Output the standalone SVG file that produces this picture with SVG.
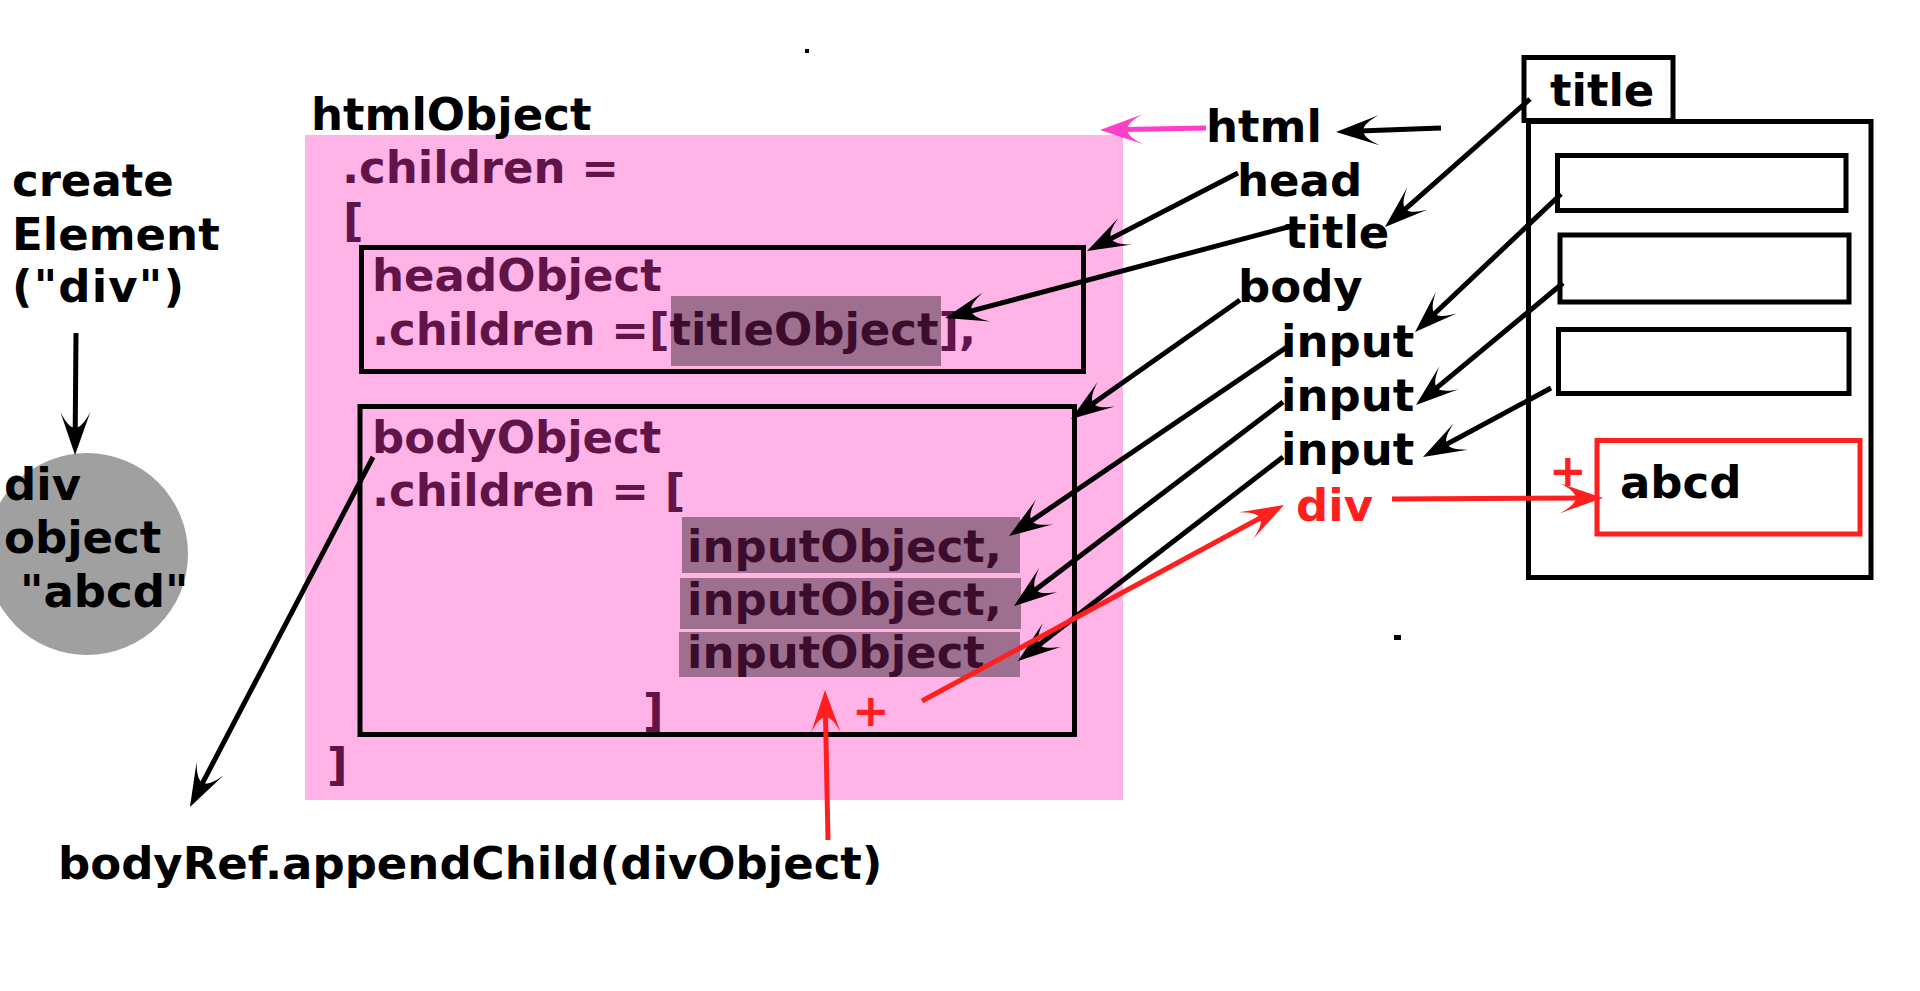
<svg xmlns="http://www.w3.org/2000/svg" width="1920" height="991" viewBox="0 0 1920 991">
  <style>
    text { font-family: "DejaVu Sans", "Liberation Sans", sans-serif; font-weight: bold; font-size: 45px; }
    .blk { fill: #000000; }
    .pur { fill: #601448; }
    .red { fill: #ff1f1f; }
    .hl { fill: #000000; fill-opacity: 0.38; }
    .box { fill: none; stroke: #000000; stroke-width: 5; }
    .ln { fill: none; stroke: #000000; stroke-width: 5; }
    .lnr { fill: none; stroke: #ff1f1f; stroke-width: 5; }
    .lnp { fill: none; stroke: #ff3ec8; stroke-width: 5; }
  </style>
  <defs>
    <marker id="ah" markerUnits="userSpaceOnUse" refX="-10" refY="0" markerWidth="60" markerHeight="40" orient="auto" overflow="visible">
      <path d="M0,0 L-43,-15 C-22,-4 -22,4 -43,15 Z" fill="#000000"/>
    </marker>
    <marker id="ahr" markerUnits="userSpaceOnUse" refX="-10" refY="0" markerWidth="60" markerHeight="40" orient="auto" overflow="visible">
      <path d="M0,0 L-43,-15 C-22,-4 -22,4 -43,15 Z" fill="#ff1f1f"/>
    </marker>
    <marker id="ahp" markerUnits="userSpaceOnUse" refX="-10" refY="0" markerWidth="60" markerHeight="40" orient="auto" overflow="visible">
      <path d="M0,0 L-43,-15 C-22,-4 -22,4 -43,15 Z" fill="#ff3ec8"/>
    </marker>
  </defs>
  <rect width="1920" height="991" fill="#ffffff"/>

  <g id="create-element">
    <text class="blk" x="12" y="196">create</text>
    <text class="blk" x="12" y="250">Element</text>
    <text class="blk" x="12" y="302" textLength="172" lengthAdjust="spacing">("div")</text>
  </g>

  <g id="div-object">
    <circle cx="87" cy="554" r="101" fill="#a0a0a0"/>
    <text class="blk" x="4" y="500">div</text>
    <text class="blk" x="4" y="553">object</text>
    <text class="blk" x="20" y="607">"abcd"</text>
  </g>

  <g id="html-object">
    <rect x="305" y="135" width="818" height="665" fill="#ffb3e6"/>
    <text class="blk" x="311" y="130">htmlObject</text>
    <text class="pur" x="342" y="183">.children =</text>
    <text class="pur" x="343" y="236">[</text>
    <text class="pur" x="327" y="780">]</text>
  </g>

  <g id="head-object">
    <rect class="box" x="361.5" y="247.5" width="722" height="124"/>
    <text class="pur" x="372" y="291">headObject</text>
    <text class="pur" x="372" y="345">.children =[titleObject],</text>
    <rect class="hl" x="671" y="296" width="270" height="70"/>
  </g>

  <g id="body-object">
    <rect class="box" x="360" y="406.5" width="714.5" height="328"/>
    <text class="pur" x="372" y="453">bodyObject</text>
    <text class="pur" x="372" y="506">.children = [</text>
    <text class="pur" x="687" y="562">inputObject,</text>
    <text class="pur" x="687" y="615">inputObject,</text>
    <text class="pur" x="687" y="668">inputObject</text>
    <rect class="hl" x="682" y="517" width="338" height="56"/>
    <rect class="hl" x="680" y="578" width="341" height="51"/>
    <rect class="hl" x="679" y="632" width="341" height="45"/>
    <text class="pur" x="643" y="726">]</text>
    <text class="red" x="852" y="726">+</text>
  </g>

  <g id="append-child">
    <text class="blk" x="58" y="879">bodyRef.appendChild(divObject)</text>
  </g>

  <g id="dom-labels">
    <text class="blk" x="1206" y="142">html</text>
    <text class="blk" x="1237" y="196">head</text>
    <text class="blk" x="1285" y="248">title</text>
    <text class="blk" x="1238" y="302">body</text>
    <text class="blk" x="1281" y="357">input</text>
    <text class="blk" x="1281" y="411">input</text>
    <text class="blk" x="1281" y="465">input</text>
    <text class="red" x="1296" y="521">div</text>
  </g>

  <g id="page">
    <rect class="box" x="1528.5" y="121.5" width="342.5" height="456"/>
    <rect class="box" x="1524" y="57.5" width="149" height="63" fill="#ffffff"/>
    <text class="blk" x="1550" y="106">title</text>
    <rect class="box" x="1557.5" y="155.5" width="288.5" height="55"/>
    <rect class="box" x="1560" y="235" width="289" height="67"/>
    <rect class="box" x="1558.5" y="329.5" width="290.5" height="64"/>
    <rect x="1597" y="440.5" width="263" height="93.5" fill="none" stroke="#ff1f1f" stroke-width="5"/>
    <text class="red" x="1549" y="486" font-size="48">+</text>
    <text class="blk" x="1620" y="498">abcd</text>
  </g>

  <g id="specks">
    <rect x="805" y="49" width="4" height="4" fill="#000000"/>
    <rect x="1394" y="635" width="7" height="5" fill="#000000"/>
  </g>

  <g id="connectors">
    <line class="ln" x1="76" y1="333" x2="75.1" y2="445" marker-end="url(#ah)"/>
    <line class="ln" x1="373" y1="457" x2="194.6" y2="798.1" marker-end="url(#ah)"/>
    <line class="lnp" x1="1206" y1="128" x2="1110" y2="129.8" marker-end="url(#ahp)"/>
    <line class="ln" x1="1441" y1="128" x2="1346" y2="131.6" marker-end="url(#ah)"/>
    <line class="ln" x1="1238" y1="173" x2="1095.9" y2="246.4" marker-end="url(#ah)"/>
    <line class="ln" x1="1288" y1="227" x2="954.7" y2="315.4" marker-end="url(#ah)"/>
    <line class="ln" x1="1530" y1="99" x2="1392.5" y2="220.4" marker-end="url(#ah)"/>
    <line class="ln" x1="1240" y1="300" x2="1079.2" y2="413.2" marker-end="url(#ah)"/>
    <line class="ln" x1="1287" y1="347" x2="1017.3" y2="530.4" marker-end="url(#ah)"/>
    <line class="ln" x1="1283" y1="402" x2="1022" y2="600" marker-end="url(#ah)"/>
    <line class="ln" x1="1283" y1="457" x2="1025.9" y2="654.9" marker-end="url(#ah)"/>
    <line class="ln" x1="1561" y1="194" x2="1422.3" y2="325.2" marker-end="url(#ah)"/>
    <line class="ln" x1="1563" y1="283" x2="1423.7" y2="398.7" marker-end="url(#ah)"/>
    <line class="ln" x1="1551" y1="388" x2="1431.8" y2="452.2" marker-end="url(#ah)"/>
    <line class="lnr" x1="922" y1="701" x2="1275.2" y2="509.8" marker-end="url(#ahr)"/>
    <line class="lnr" x1="1392" y1="499" x2="1593" y2="498" marker-end="url(#ahr)"/>
    <line class="lnr" x1="828" y1="840" x2="825.2" y2="700" marker-end="url(#ahr)"/>
  </g>
</svg>
